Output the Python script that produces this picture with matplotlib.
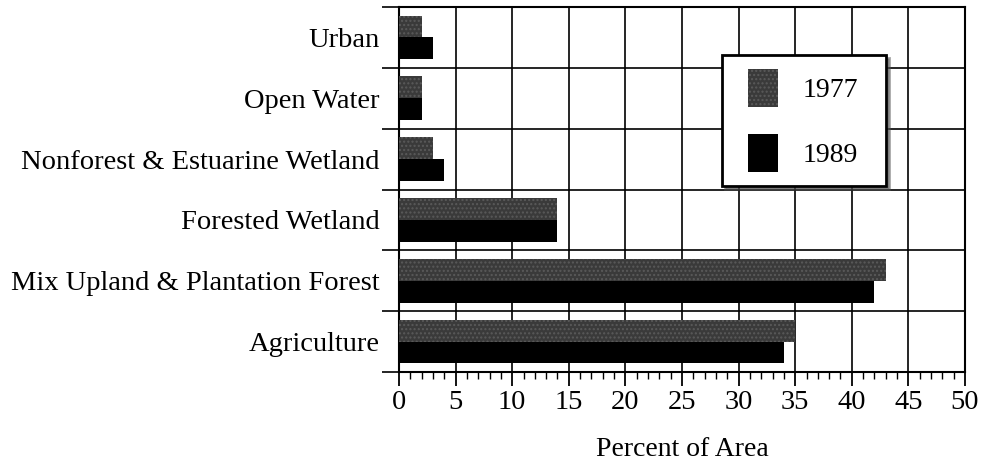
import numpy as np
from matplotlib import pyplot as plt
from matplotlib.container import BarContainer
from matplotlib.legend_handler import HandlerPatch, update_from_first_child

plt.rcParams['font.family'] = ['Liberation Serif', 'DejaVu Serif']

categories = ['Urban', 'Open Water', 'Nonforest & Estuarine Wetland',
              'Forested Wetland', 'Mix Upland & Plantation Forest', 'Agriculture']
pct_1977 = [2, 2, 3, 14, 43, 35]
pct_1989 = [3, 2, 4, 14, 42, 34]
x_ticks = [0, 5, 10, 15, 20, 25, 30, 35, 40, 45, 50]

fig = plt.figure(figsize=(9.96, 4.62), dpi=100)
ax = fig.add_axes([0.4006, 0.1948, 0.5683, 0.79])

y = np.arange(len(categories))
h = 0.36
ax.barh(y - h / 2, pct_1977, height=h, color='#3a3a3a', hatch='....',
        edgecolor='#5a5a5a', linewidth=0, label='1977', zorder=3)
ax.barh(y + h / 2, pct_1989, height=h, color='black', label='1989', zorder=3)

ax.set_xlim(0, 50)
ax.set_ylim(len(categories) - 0.5, -0.5)
ax.set_xticks(x_ticks)
ax.set_xticks(np.arange(0, 51, 1), minor=True)
ax.set_yticks(y)
ax.set_yticklabels(categories)
ax.set_yticks(np.arange(-0.5, len(categories), 1), minor=True)

ax.tick_params(axis='y', which='major', length=0, pad=14, labelsize=20.5)
ax.tick_params(axis='y', which='minor', length=12, width=1.2, direction='out')
ax.tick_params(axis='x', which='major', length=10, width=1.3, direction='out', labelsize=20.5, pad=3)
ax.tick_params(axis='x', which='minor', length=5, width=1, direction='out')

ax.grid(axis='x', which='major', color='black', linewidth=1.2, zorder=0)
ax.grid(axis='y', which='minor', color='black', linewidth=1.2, zorder=0)
ax.set_axisbelow(True)
for s in ax.spines.values():
    s.set_linewidth(1.5)

ax.set_xlabel('Percent of Area', fontsize=20, labelpad=16)

# legend: square handles pushed right, box stretched to the reference width
hmap = {BarContainer: HandlerPatch(xpad=0.44, update_func=update_from_first_child)}
leg = ax.legend(loc='upper left', bbox_to_anchor=(0.571, 0.512, 0.29, 0.356), mode='expand',
                fontsize=20, fancybox=False, shadow=True, framealpha=1, edgecolor='black',
                handlelength=1.51, handleheight=1.7, handletextpad=0.9,
                labelspacing=1.0, borderpad=0.5, borderaxespad=0, handler_map=hmap)
leg.get_frame().set_linewidth(2)

fig.savefig('out.png', dpi=100)
